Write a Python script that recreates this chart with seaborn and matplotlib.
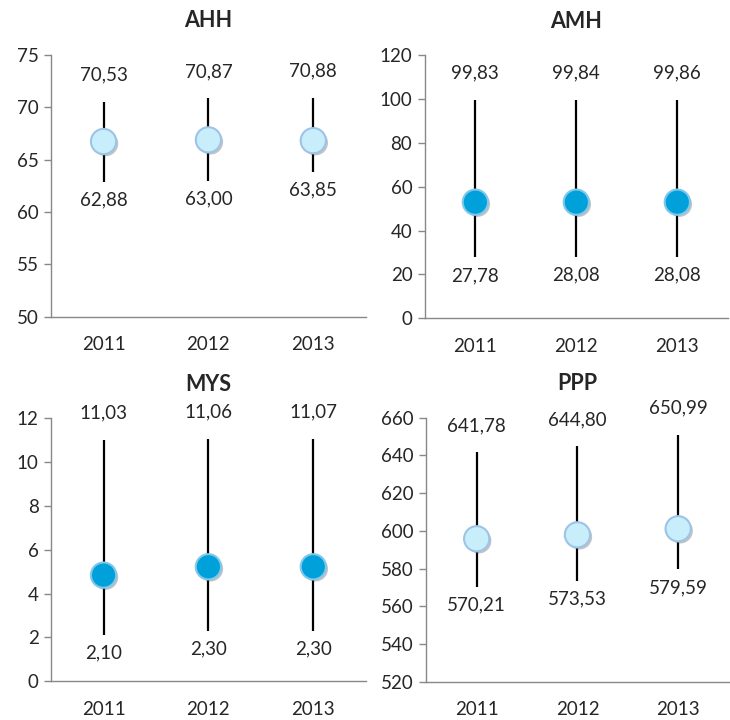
import numpy as np
import pandas as pd
import seaborn as sns
import matplotlib.pyplot as plt
import matplotlib.patheffects as pe

sns.set_style('white')
plt.rcParams['font.family'] = ['Lato', 'DejaVu Sans']

# data
years = ['2011', '2012', '2013']
ahh_high = [70.53, 70.87, 70.88]
ahh_low = [62.88, 63.00, 63.85]
ahh_mid = [66.72, 66.88, 66.80]
amh_high = [99.83, 99.84, 99.86]
amh_low = [27.78, 28.08, 28.08]
amh_mid = [53.0, 53.0, 53.0]
mys_high = [11.03, 11.06, 11.07]
mys_low = [2.10, 2.30, 2.30]
mys_mid = [4.84, 5.22, 5.22]
ppp_high = [641.78, 644.80, 650.99]
ppp_low = [570.21, 573.53, 579.59]
ppp_mid = [595.8, 597.9, 601.1]

light = '#C8EEFC'
light_edge = '#9DC3E6'
dark = '#00A0DA'
dark_edge = '#7FC8EA'

panels = [
    ('AHH', ahh_high, ahh_low, ahh_mid, (50, 75), 5, light, light_edge, [0.070, 0.560, 0.431, 0.364]),
    ('AMH', amh_high, amh_low, amh_mid, (0, 120), 20, dark, dark_edge, [0.582, 0.558, 0.415, 0.365]),
    ('MYS', mys_high, mys_low, mys_mid, (0, 12), 2, dark, dark_edge, [0.070, 0.054, 0.431, 0.365]),
    ('PPP', ppp_high, ppp_low, ppp_mid, (520, 660), 20, light, light_edge, [0.584, 0.053, 0.414, 0.367]),
]

fs = 13.5
fig = plt.figure(figsize=(7.3, 7.2), dpi=100)

for name, high, low, mid, ylim, step, fc, ec, pos in panels:
    ax = fig.add_axes(pos)
    df = pd.DataFrame({'Year': years, 'High': high, 'Low': low, 'Mid': mid})
    x = np.arange(len(years))
    ax.vlines(x, df['Low'], df['High'], color='black', lw=1.6, zorder=2)
    sns.scatterplot(data=df, x=x, y='Mid', ax=ax, s=330, color=fc,
                    edgecolor=ec, linewidth=1.5, zorder=3, legend=False)
    ax.collections[-1].set_path_effects([
        pe.SimplePatchShadow(offset=(1.5, -1.5), shadow_rgbFace='#555555', alpha=0.35),
        pe.Normal()])
    for i in range(len(years)):
        ax.annotate(f'{high[i]:.2f}'.replace('.', ','), (x[i], high[i]),
                    xytext=(0, 13), textcoords='offset points',
                    ha='center', va='bottom', fontsize=fs)
        ax.annotate(f'{low[i]:.2f}'.replace('.', ','), (x[i], low[i]),
                    xytext=(0, -7), textcoords='offset points',
                    ha='center', va='top', fontsize=fs)
    ax.set_xlim(-0.5, 2.5)
    ax.set_ylim(*ylim)
    ax.set_yticks(np.arange(ylim[0], ylim[1] + step / 2, step))
    ax.set_xticks(x)
    ax.set_xticklabels(years)
    ax.set_xticks([-0.5, 0.5, 1.5, 2.5], minor=True)
    ax.tick_params(axis='x', which='major', length=0, labelsize=fs, pad=14)
    ax.tick_params(axis='x', which='minor', length=5, color='#888888', width=1)
    ax.tick_params(axis='y', length=5, color='#888888', width=1, labelsize=fs, pad=4,
                   left=True)
    ax.set_xlabel('')
    ax.set_ylabel('')
    for s in ['top', 'right']:
        ax.spines[s].set_visible(False)
    for s in ['left', 'bottom']:
        ax.spines[s].set_color('#888888')
        ax.spines[s].set_linewidth(1)
    ax.set_title(name, fontsize=15.5, fontweight='bold', pad=20)

plt.savefig('out.png', dpi=100)
